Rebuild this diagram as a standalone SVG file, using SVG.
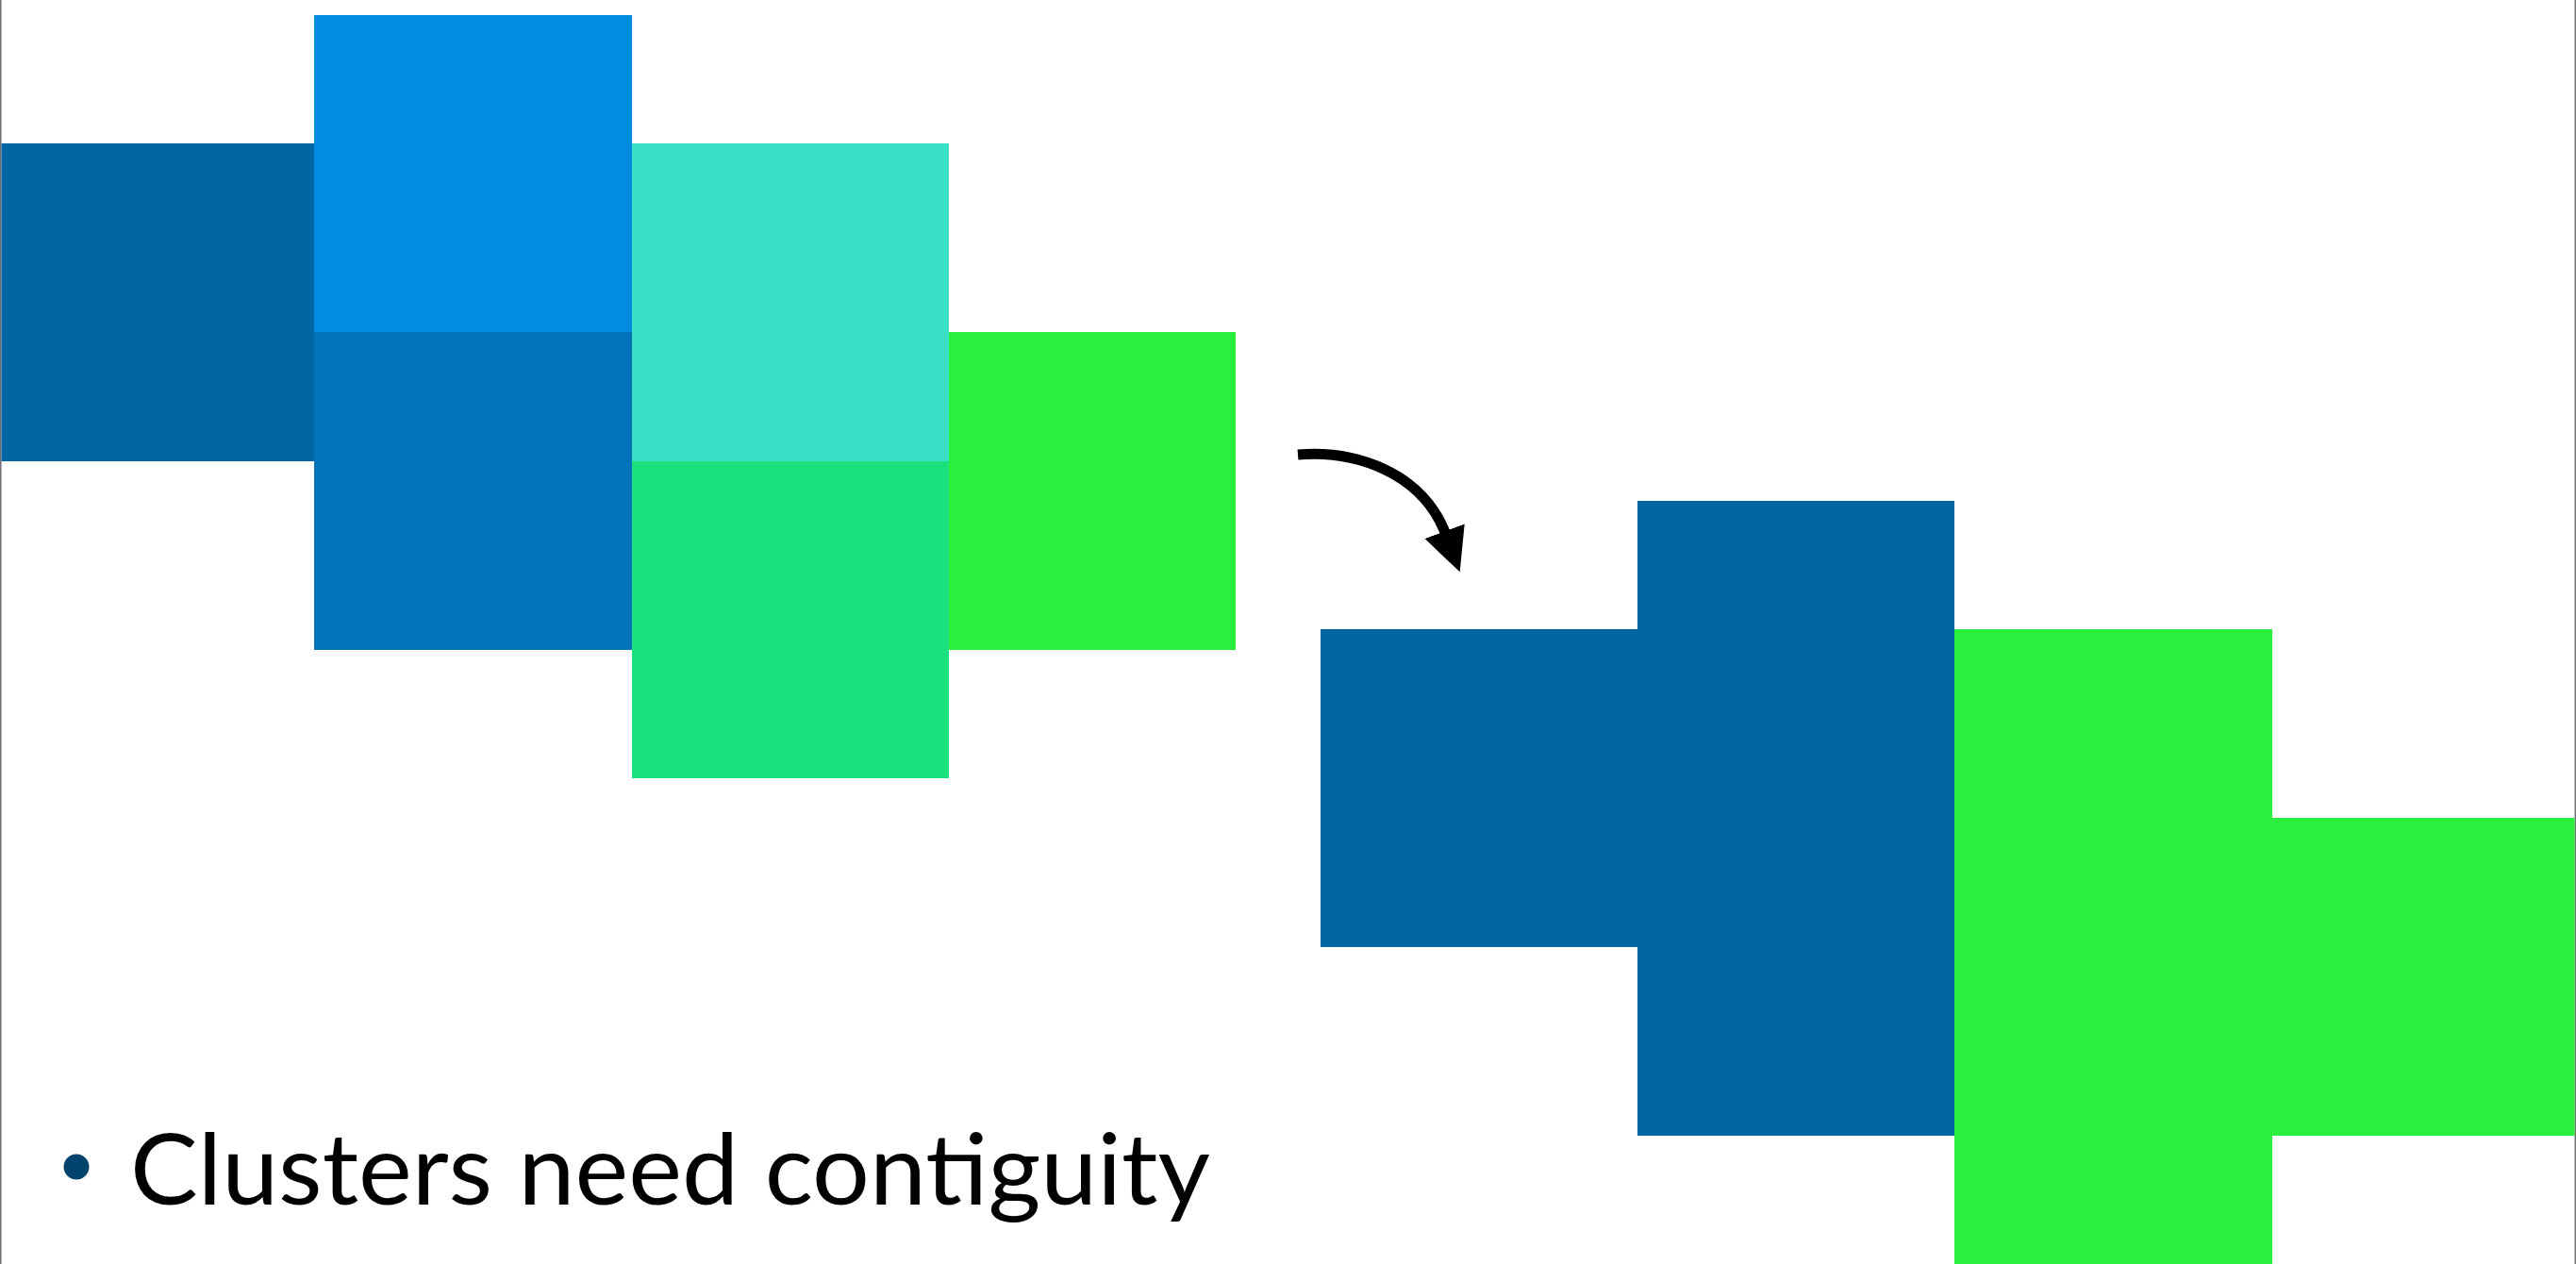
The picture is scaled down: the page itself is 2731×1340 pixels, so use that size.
<svg xmlns="http://www.w3.org/2000/svg" width="2731" height="1340" viewBox="0 0 2731 1340">
<style>
.b1{fill:#0266A5}.b2{fill:#028CE0}.b3{fill:#0273B8}.t1{fill:#3ADFC8}.g1{fill:#1BE07E}.g2{fill:#2AEF3C}
.lbl{font-family:Lato,"Open Sans","Liberation Sans",sans-serif;font-size:104px;fill:#000}
</style>
<defs>
<marker id="ah" markerUnits="userSpaceOnUse" markerWidth="52" markerHeight="52" viewBox="0 0 52 52" refX="4" refY="26" orient="auto">
<path d="M0,3.5 L46,26 L0,48.5 Z" fill="#000"/>
</marker>
</defs>
<rect width="2731" height="1340" fill="#fff"/>
<line x1="0.75" y1="0" x2="0.75" y2="1340" stroke="#707070" stroke-width="1.5"/>
<line x1="2730.25" y1="0" x2="2730.25" y2="1340" stroke="#707070" stroke-width="1.5"/>
<g id="before">
<g id="cell-a"><rect class="b1" x="1.5" y="152" width="332" height="337"/></g>
<g id="cell-b"><rect class="b2" x="333" y="16" width="337" height="336"/></g>
<g id="cell-c"><rect class="b3" x="333" y="352" width="337" height="337"/></g>
<g id="cell-d"><rect class="t1" x="670" y="152" width="336" height="337"/></g>
<g id="cell-e"><rect class="g1" x="670" y="489" width="336" height="336"/></g>
<g id="cell-f"><rect class="g2" x="1006" y="352" width="304" height="337"/></g>
</g>
<g id="after">
<g id="cluster-blue"><path class="b1" d="M1400,667 H1736 V531 H2072 V1204 H1736 V1004 H1400 Z"/></g>
<g id="cluster-green"><path class="g2" d="M2072,667 H2409 V867 H2729.5 V1204 H2409 V1340 H2072 Z"/></g>
</g>
<g id="connectors">
<path d="M1376,482 C1436,477 1508,500 1533,567" fill="none" stroke="#000" stroke-width="11" marker-end="url(#ah)"/>
</g>
<g id="caption">
<circle cx="81" cy="1237" r="13.5" fill="#02436E"/>
<text class="lbl" x="138" y="1277" textLength="1145" lengthAdjust="spacingAndGlyphs">Clusters need contiguity</text>
</g>
</svg>
